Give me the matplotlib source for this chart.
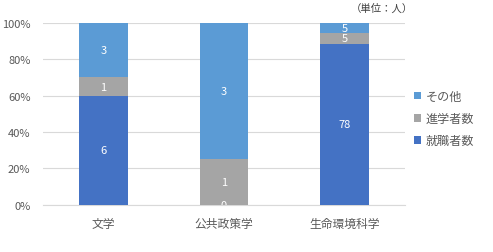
import matplotlib
matplotlib.use("Agg")
import matplotlib.pyplot as plt
import numpy as np
from matplotlib.ticker import PercentFormatter

plt.rcParams['font.family'] = ['Noto Sans CJK JP', 'DejaVu Sans']

categories = ["文学", "公共政策学", "生命環境科学"]
employed = [6, 0, 78]       # 就職者数
further_study = [1, 1, 5]   # 進学者数
other = [3, 3, 5]           # その他
series_names = ["就職者数", "進学者数", "その他"]
colors = ["#4472C4", "#A5A5A5", "#5B9BD5"]

data = np.array([employed, further_study, other], dtype=float)
totals = data.sum(axis=0)
shares = data / totals * 100

fig = plt.figure(figsize=(4.93, 2.53), dpi=100)
ax = fig.add_axes([43 / 493, 1 - 205.6 / 253, (405 - 43) / 493, (205.6 - 24) / 253])

x = np.arange(len(categories))
bottom = np.zeros(len(categories))
handles = []
for i, (name, color) in enumerate(zip(series_names, colors)):
    bars = ax.bar(x, shares[i], bottom=bottom, width=0.405, color=color,
                  label=name, zorder=3)
    handles.append(bars)
    for j in range(len(categories)):
        yc = bottom[j] + shares[i][j] / 2
        ax.text(x[j], yc, f"{int(data[i][j])}", ha="center", va="center",
                color="white", fontsize=8, zorder=4, clip_on=True)
    bottom += shares[i]

ax.set_xlim(-0.5, len(categories) - 0.5)
ax.set_ylim(0, 100)
ax.set_yticks(np.arange(0, 101, 20))
ax.yaxis.set_major_formatter(PercentFormatter(decimals=0))
ax.set_xticks(x)
ax.set_xticklabels(categories)
ax.grid(axis="y", color="#D9D9D9", linewidth=0.8, zorder=0)
for side in ["top", "right", "left"]:
    ax.spines[side].set_visible(False)
ax.spines["bottom"].set_color("#D9D9D9")
ax.tick_params(axis="both", length=0, colors="#595959", labelsize=8.5)
ax.tick_params(axis="x", pad=9)
ax.tick_params(axis="y", pad=9, labelsize=8)

leg = fig.legend(handles[::-1], series_names[::-1], loc="upper left",
                 bbox_to_anchor=(403 / 493, 1 - 80 / 253), frameon=False,
                 fontsize=8.7, handlelength=0.6, handleheight=0.6,
                 handletextpad=0.4, labelspacing=0.75, labelcolor="#595959")

fig.text(413 / 493, 1 - 9 / 253, "（単位：人）", ha="right", va="center",
         fontsize=7.5, color="#404040")

fig.savefig("out.png", dpi=100)
